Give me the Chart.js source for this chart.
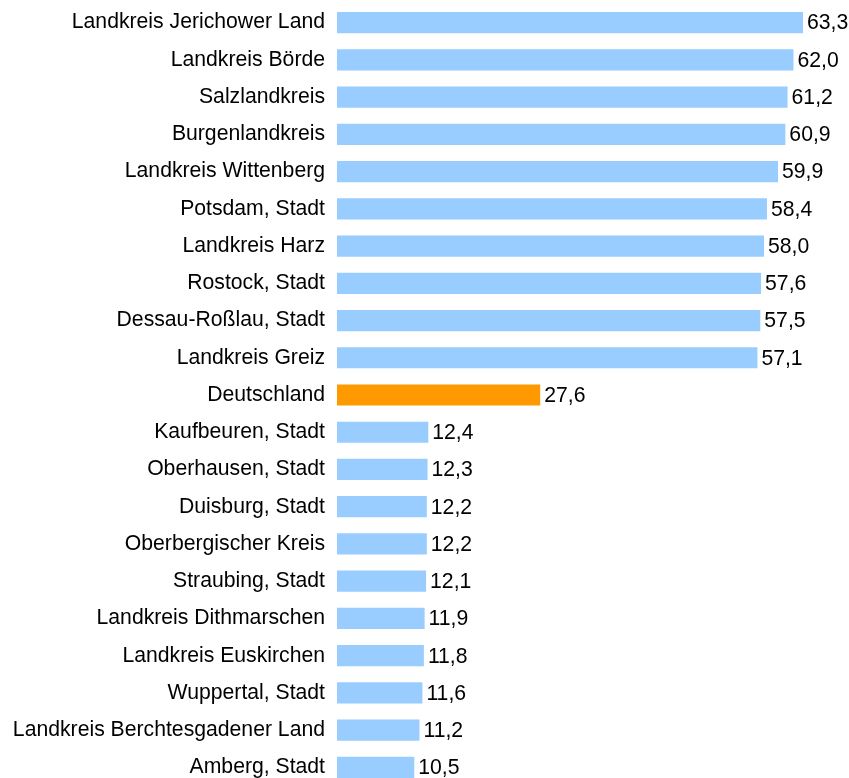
<!DOCTYPE html>
<html>
<head>
<meta charset="utf-8">
<script src="https://cdn.jsdelivr.net/npm/chart.js@4"></script>
<style>
  html, body { margin: 0; padding: 0; background: #fff; overflow: hidden; }
  #wrap { position: relative; width: 849px; height: 790px; }
</style>
</head>
<body>
<div id="wrap"><canvas id="chart"></canvas></div>
<script>
const regions = [
  'Landkreis Jerichower Land', 'Landkreis Börde', 'Salzlandkreis', 'Burgenlandkreis',
  'Landkreis Wittenberg', 'Potsdam, Stadt', 'Landkreis Harz', 'Rostock, Stadt',
  'Dessau-Roßlau, Stadt', 'Landkreis Greiz', 'Deutschland', 'Kaufbeuren, Stadt',
  'Oberhausen, Stadt', 'Duisburg, Stadt', 'Oberbergischer Kreis', 'Straubing, Stadt',
  'Landkreis Dithmarschen', 'Landkreis Euskirchen', 'Wuppertal, Stadt',
  'Landkreis Berchtesgadener Land', 'Amberg, Stadt'
];
const values = [63.3, 62.0, 61.2, 60.9, 59.9, 58.4, 58.0, 57.6, 57.5, 57.1, 27.6,
  12.4, 12.3, 12.2, 12.2, 12.1, 11.9, 11.8, 11.6, 11.2, 10.5];
const highlight = 'Deutschland';

const FONT = { family: 'Arial, "Liberation Sans", sans-serif', size: 21.2 };

const fmt = v => v.toFixed(1).replace('.', ',');

// value labels after each bar
const valueLabels = {
  id: 'valueLabels',
  afterDatasetsDraw(chart) {
    const ctx = chart.ctx;
    const meta = chart.getDatasetMeta(0);
    ctx.save();
    ctx.font = FONT.size + 'px ' + FONT.family;
    ctx.fillStyle = '#000';
    ctx.textAlign = 'left';
    ctx.textBaseline = 'middle';
    meta.data.forEach((bar, i) => {
      ctx.fillText(fmt(values[i]), bar.x + 4, bar.y + 1);
    });
    ctx.restore();
  }
};

new Chart(document.querySelector('#chart').getContext('2d'), {
  type: 'bar',
  data: {
    labels: regions,
    datasets: [{
      data: values,
      backgroundColor: regions.map(r => r === highlight ? '#FF9900' : '#99CCFF'),
      borderWidth: 0,
      categoryPercentage: 1,
      barPercentage: 0.57
    }]
  },
  options: {
    indexAxis: 'y',
    responsive: true,
    maintainAspectRatio: false,
    animation: false,
    layout: { padding: { top: 4, bottom: 4, right: 4, left: 0 } },
    plugins: {
      legend: { display: false },
      tooltip: { enabled: false }
    },
    scales: {
      x: {
        min: 0,
        max: 69,
        display: false
      },
      y: {
        grid: { display: false, drawTicks: false },
        border: { display: false },
        ticks: { color: '#000', font: FONT, padding: 12, autoSkip: false },
        afterFit(scale) {
          scale.width = 337;
          scale.paddingTop = 0;
          scale.paddingBottom = 0;
        }
      }
    }
  },
  plugins: [valueLabels]
});
</script>
</body>
</html>
